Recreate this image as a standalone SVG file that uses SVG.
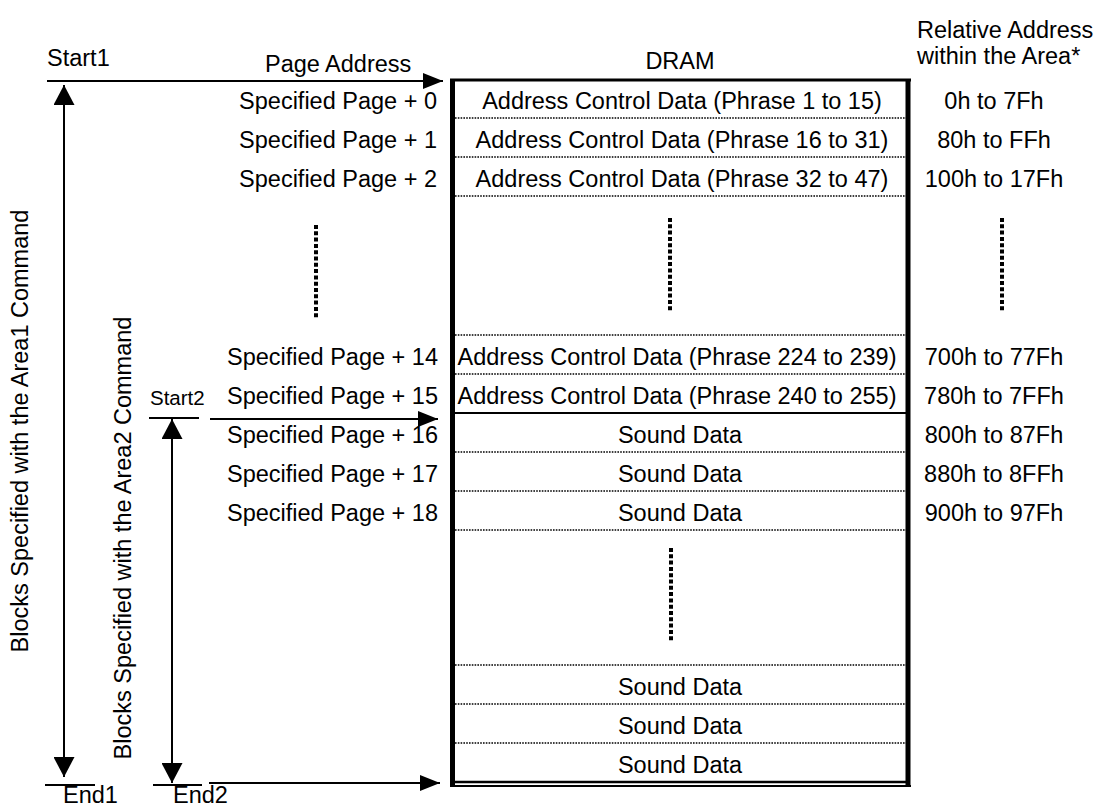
<svg xmlns="http://www.w3.org/2000/svg" width="1099" height="809" viewBox="0 0 1099 809">
<style>
text{font-family:"Liberation Sans",Arial,Helvetica,sans-serif;font-size:23.5px;fill:#000}
.m{text-anchor:middle}
.e{text-anchor:end}
.ln{stroke:#000;stroke-width:2;fill:none}
.sep{stroke:#000;stroke-width:1.3;stroke-dasharray:1.6 1.2;fill:none}
.ell{stroke:#000;stroke-width:4;stroke-dasharray:4 2.3;fill:none}
.bx{stroke:#000;fill:none}
</style>
<defs>
<marker id="ah" markerUnits="userSpaceOnUse" markerWidth="20" markerHeight="16" refX="20" refY="8" orient="auto-start-reverse">
<path d="M0,0 L20,8 L0,16 z" fill="#000"/>
</marker>
<marker id="av" markerUnits="userSpaceOnUse" markerWidth="20" markerHeight="21" refX="20" refY="10.5" orient="auto-start-reverse">
<path d="M0,0 L20,10.5 L0,21 z" fill="#000"/>
</marker>
</defs>
<rect width="1099" height="809" fill="#fff"/>

<g id="headers">
<text x="47" y="66">Start1</text>
<text x="265" y="72">Page Address</text>
<text x="680" y="69" class="m">DRAM</text>
<text x="917" y="38">Relative Address</text>
<text x="917" y="64">within the Area*</text>
<text x="150" y="405" style="font-size:20.5px">Start2</text>
<text x="63" y="803">End1</text>
<text x="173" y="803">End2</text>
</g>

<g id="dram">
<line class="bx" x1="450" y1="80" x2="911" y2="80" stroke-width="3"/>
<line class="bx" x1="452.5" y1="79" x2="452.5" y2="787" stroke-width="5"/>
<line class="bx" x1="908" y1="79" x2="908" y2="787" stroke-width="5"/>
<line class="bx" x1="452" y1="782" x2="908" y2="782" stroke-width="2.5"/>
<line class="bx" x1="450" y1="786" x2="911" y2="786" stroke-width="2"/>
<g id="separators">
<line class="sep" x1="455" y1="118" x2="906" y2="118"/>
<line class="sep" x1="455" y1="157" x2="906" y2="157"/>
<line class="sep" x1="455" y1="196" x2="906" y2="196"/>
<line class="sep" x1="455" y1="335" x2="906" y2="335"/>
<line class="sep" x1="455" y1="374" x2="906" y2="374"/>
<line class="ln" x1="455" y1="413" x2="906" y2="413"/>
<line class="sep" x1="455" y1="452" x2="906" y2="452"/>
<line class="sep" x1="455" y1="491" x2="906" y2="491"/>
<line class="sep" x1="455" y1="530" x2="906" y2="530"/>
<line class="sep" x1="455" y1="665" x2="906" y2="665"/>
<line class="sep" x1="455" y1="704" x2="906" y2="704"/>
<line class="sep" x1="455" y1="743" x2="906" y2="743"/>
</g>
<g id="cells">
<text x="682" y="109" class="m">Address Control Data (Phrase 1 to 15)</text>
<text x="682" y="148" class="m">Address Control Data (Phrase 16 to 31)</text>
<text x="682" y="187" class="m">Address Control Data (Phrase 32 to 47)</text>
<text x="677" y="365" class="m">Address Control Data (Phrase 224 to 239)</text>
<text x="677" y="404" class="m">Address Control Data (Phrase 240 to 255)</text>
<text x="680" y="443" class="m">Sound Data</text>
<text x="680" y="482" class="m">Sound Data</text>
<text x="680" y="521" class="m">Sound Data</text>
<text x="680" y="695" class="m">Sound Data</text>
<text x="680" y="734" class="m">Sound Data</text>
<text x="680" y="773" class="m">Sound Data</text>
</g>
</g>

<g id="page-addresses">
<text x="437" y="109" class="e">Specified Page + 0</text>
<text x="437" y="148" class="e">Specified Page + 1</text>
<text x="437" y="187" class="e">Specified Page + 2</text>
<text x="438" y="365" class="e">Specified Page + 14</text>
<text x="438" y="404" class="e">Specified Page + 15</text>
<text x="438" y="443" class="e">Specified Page + 16</text>
<text x="438" y="482" class="e">Specified Page + 17</text>
<text x="438" y="521" class="e">Specified Page + 18</text>
</g>

<g id="relative-addresses">
<text x="994" y="109" class="m">0h to 7Fh</text>
<text x="994" y="148" class="m">80h to FFh</text>
<text x="994" y="187" class="m">100h to 17Fh</text>
<text x="994" y="365" class="m">700h to 77Fh</text>
<text x="994" y="404" class="m">780h to 7FFh</text>
<text x="994" y="443" class="m">800h to 87Fh</text>
<text x="994" y="482" class="m">880h to 8FFh</text>
<text x="994" y="521" class="m">900h to 97Fh</text>
</g>

<g id="ellipses">
<line class="ell" x1="316" y1="225" x2="316" y2="318"/>
<line class="ell" x1="670" y1="218" x2="670" y2="312"/>
<line class="ell" x1="1002" y1="218" x2="1002" y2="312"/>
<line class="ell" x1="671" y1="548" x2="671" y2="641"/>
</g>

<g id="area-labels">
<text transform="translate(28,431) rotate(-90)" class="m">Blocks Specified with the Area1 Command</text>
<text transform="translate(131,538) rotate(-90)" class="m">Blocks Specified with the Area2 Command</text>
</g>

<g id="connectors">
<line class="ln" x1="47" y1="81" x2="95" y2="81"/>
<line class="ln" x1="95" y1="81" x2="443" y2="81" marker-end="url(#ah)"/>
<line class="ln" x1="64" y1="85" x2="64" y2="777" marker-start="url(#av)" marker-end="url(#av)"/>
<line class="ln" x1="45" y1="785" x2="95" y2="785"/>
<line class="ln" x1="149" y1="418" x2="199" y2="418"/>
<line class="ln" x1="210" y1="419" x2="438" y2="419" marker-end="url(#ah)"/>
<line class="ln" x1="172" y1="419" x2="172" y2="783" marker-start="url(#av)" marker-end="url(#av)"/>
<line class="ln" x1="153" y1="785" x2="202" y2="785"/>
<line class="ln" x1="209" y1="783" x2="440" y2="783" marker-end="url(#ah)"/>
</g>
</svg>
